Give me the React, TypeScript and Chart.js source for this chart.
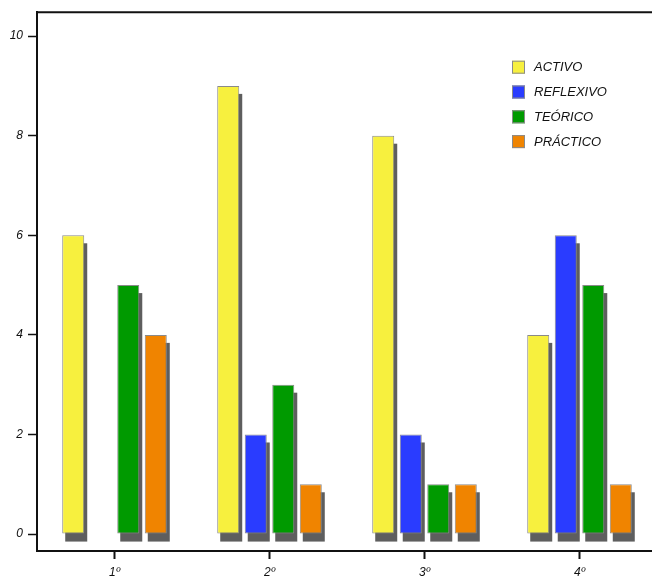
import React, { useEffect, useRef } from "react";
import { Chart, registerables } from "chart.js";

Chart.register(...registerables);

const categories = ["1º", "2º", "3º", "4º"];
const seriesNames = ["ACTIVO", "REFLEXIVO", "TEÓRICO", "PRÁCTICO"];
const activo = [6, 9, 8, 4];
const reflexivo = [0, 2, 2, 6];
const teorico = [5, 3, 1, 5];
const practico = [4, 1, 1, 1];
const yTicks = [0, 2, 4, 6, 8, 10];
const colors = ["#f7f03e", "#2a3cff", "#009a00", "#f08400"];

const FONT = "'Liberation Sans', Arial, Helvetica, sans-serif";

const shadowPlugin = {
  id: "barShadow",
  beforeDatasetsDraw(chart: any) {
    const ctx = chart.ctx;
    ctx.save();
    ctx.fillStyle = "#5e5e5e";
    chart.data.datasets.forEach((ds: any, i: number) => {
      const meta = chart.getDatasetMeta(i);
      meta.data.forEach((el: any, j: number) => {
        const v = ds.data[j];
        if (!v) return;
        const p = el.getProps(["x", "y", "base", "width"], true);
        ctx.fillRect(p.x - p.width / 2 + 3, p.y + 8, p.width, p.base - p.y);
      });
    });
    ctx.restore();
  },
};

const framePlugin = {
  id: "frameAndLegend",
  afterDraw(chart: any) {
    const ctx = chart.ctx;
    const a = chart.chartArea;
    ctx.save();
    ctx.strokeStyle = "#111";
    ctx.lineWidth = 2;
    ctx.beginPath();
    ctx.moveTo(a.left - 1, a.top);
    ctx.lineTo(chart.width, a.top);
    ctx.stroke();

    // legend
    const lx = a.left + 475;
    const ly = a.top + 55;
    const gap = 24.8;
    ctx.font = `italic 13px ${FONT}`;
    ctx.textBaseline = "middle";
    ctx.textAlign = "left";
    chart.data.datasets.forEach((ds: any, i: number) => {
      const cy = ly + i * gap;
      ctx.fillStyle = ds.backgroundColor;
      ctx.fillRect(lx, cy - 6.5, 13, 13);
      ctx.strokeStyle = "#8a8a8a";
      ctx.lineWidth = 1;
      ctx.strokeRect(lx + 0.5, cy - 6, 12, 12);
      ctx.fillStyle = "#111";
      ctx.fillText(ds.label, lx + 22, cy + 0.5);
    });
    ctx.restore();
  },
};

export default function App() {
  const ref = useRef<HTMLCanvasElement>(null);
  useEffect(() => {
    if (!ref.current) return;
    const seriesData = [activo, reflexivo, teorico, practico];
    const chart = new Chart(ref.current, {
      type: "bar",
      data: {
        labels: categories,
        datasets: seriesNames.map((name, i) => ({
          label: name,
          data: seriesData[i],
          backgroundColor: colors[i],
          borderColor: "#8a8a8a",
          borderWidth: 1,
          borderSkipped: false,
          categoryPercentage: 0.71,
          barPercentage: 0.8,
        })),
      },
      options: {
        animation: false,
        responsive: false,
        layout: { padding: { top: 12, right: 3, left: 0, bottom: 0 } },
        plugins: { legend: { display: false }, tooltip: { enabled: false } },
        scales: {
          x: {
            offset: true,
            grid: {
              offset: false,
              drawOnChartArea: false,
              drawTicks: true,
              tickLength: 8,
              tickWidth: 2,
              tickColor: "#111",
            },
            border: { display: true, color: "#111", width: 2 },
            ticks: {
              padding: 6,
              color: "#111",
              font: { family: FONT, size: 12, style: "italic" },
            },
            afterFit(scale: any) {
              scale.height = 28;
            },
          },
          y: {
            min: -0.34,
            max: 10.48,
            afterBuildTicks(axis: any) {
              axis.ticks = yTicks.map((v) => ({ value: v }));
            },
            grid: {
              drawOnChartArea: false,
              drawTicks: true,
              tickLength: 9,
              tickWidth: 1.5,
              tickColor: "#111",
            },
            border: { display: true, color: "#111", width: 2 },
            ticks: {
              padding: 5,
              color: "#111",
              font: { family: FONT, size: 12, style: "italic" },
            },
            afterFit(scale: any) {
              scale.width = 37;
            },
          },
        },
      },
      plugins: [shadowPlugin, framePlugin],
    });
    return () => chart.destroy();
  }, []);
  return (
    <div
      style={{
        position: "absolute",
        left: 0,
        top: 0,
        width: 652,
        height: 579,
        overflow: "hidden",
        background: "#fff",
      }}
    >
      <canvas ref={ref} width={660} height={579} style={{ display: "block" }} />
    </div>
  );
}
